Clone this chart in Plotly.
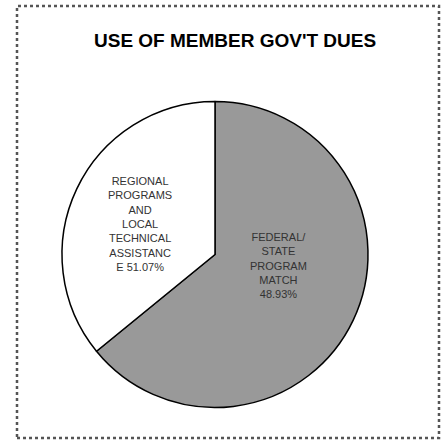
import plotly.graph_objects as go

W, H = 442, 440

title_text = "USE OF MEMBER GOV'T DUES"
categories = ["FEDERAL/ STATE PROGRAM MATCH", "REGIONAL PROGRAMS AND LOCAL TECHNICAL ASSISTANCE"]
# slice sizes as drawn in the picture (angular share)
slice_values = [64.1, 35.9]
# percentages as printed on the chart labels
label_pcts = ["48.93%", "51.07%"]
label_lines = [
    "FEDERAL/<br>STATE<br>PROGRAM<br>MATCH<br>" + label_pcts[0],
    "REGIONAL<br>PROGRAMS<br>AND<br>LOCAL<br>TECHNICAL<br>ASSISTANC<br>E " + label_pcts[1],
]
slice_colors = ["#999999", "#ffffff"]

FONT = "Liberation Sans, Arial, sans-serif"

fig = go.Figure()
fig.add_trace(go.Pie(
    labels=categories,
    values=slice_values,
    sort=False,
    direction="clockwise",
    rotation=0,
    marker=dict(colors=slice_colors, line=dict(color="#000000", width=1.5)),
    textinfo="none",
    hoverinfo="label+percent",
    showlegend=False,
    domain=dict(x=[62 / W, 368 / W], y=[1 - 409 / H, 1 - 100 / H]),
))

def px(x):
    return x / W

def py(y):
    return 1 - y / H

annotations = [
    dict(text="<b>" + title_text + "</b>", x=px(235), y=py(40), xref="paper", yref="paper",
         showarrow=False, font=dict(family=FONT, size=19, color="#000000"),
         xanchor="center", yanchor="middle"),
    dict(text=label_lines[0], x=px(278), y=py(265), xref="paper", yref="paper",
         showarrow=False, font=dict(family=FONT, size=11, color="#333333"),
         xanchor="center", yanchor="middle", align="center"),
    dict(text=label_lines[1], x=px(140), y=py(224), xref="paper", yref="paper",
         showarrow=False, font=dict(family=FONT, size=11, color="#333333"),
         xanchor="center", yanchor="middle", align="center"),
]

fig.update_layout(
    width=W, height=H,
    margin=dict(l=0, r=0, t=0, b=0),
    paper_bgcolor="#ffffff",
    plot_bgcolor="#ffffff",
    annotations=annotations,
    shapes=[dict(type="rect", xref="paper", yref="paper",
                 x0=px(17), x1=px(439), y0=py(438), y1=py(6),
                 line=dict(color="#555555", width=2.5, dash="dot"))],
)

fig.write_html("out.html", config={"displayModeBar": False})
